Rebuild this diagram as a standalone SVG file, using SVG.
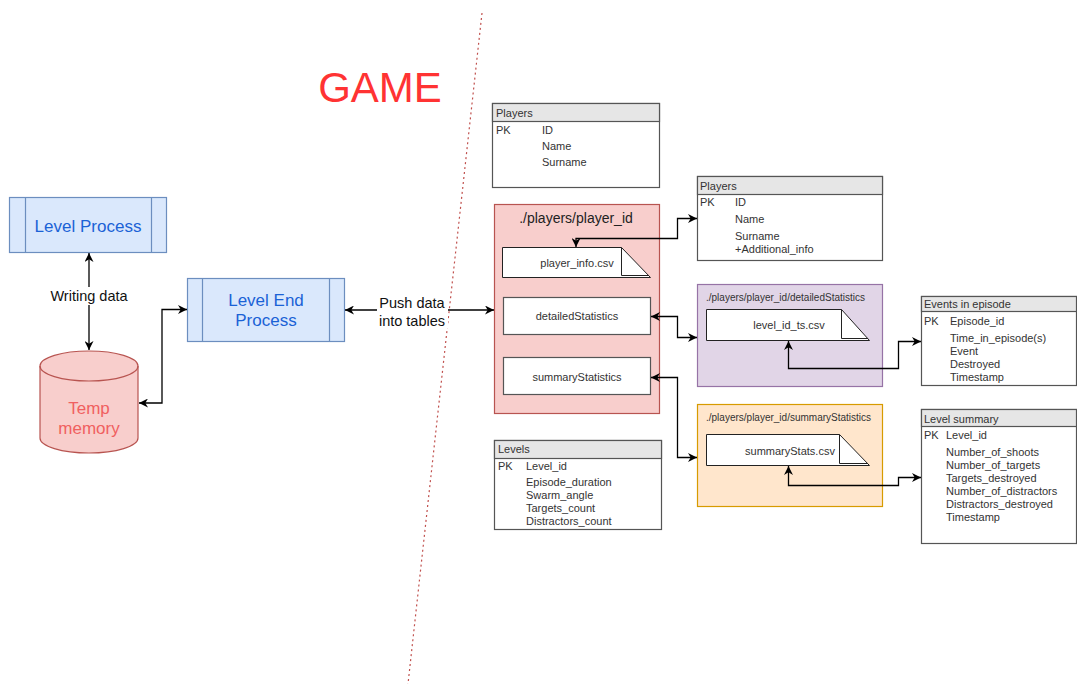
<svg xmlns="http://www.w3.org/2000/svg" width="1077" height="684" viewBox="0 0 1077 684">
<defs>
<marker id="ah" viewBox="0 0 10 10" refX="10" refY="5" markerWidth="9" markerHeight="9" markerUnits="userSpaceOnUse" orient="auto-start-reverse">
<path d="M0,0 L10,5 L0,10 L3,5 Z" fill="#000"/>
</marker>
</defs>
<style>
text{font-family:"Liberation Sans",Arial,sans-serif;}
.proc{fill:#dae8fc;stroke:#6c8ebf;stroke-width:1.2;}
.ptxt{fill:#1a62d6;font-size:17px;text-anchor:middle;}
.tbl{fill:#fff;stroke:#555;stroke-width:1.2;}
.hdr{fill:#e6e6e6;stroke:#555;stroke-width:1.2;}
.tt{fill:#333;font-size:11px;}
.note{fill:#fff;stroke:#222;stroke-width:1;}
.ntxt{fill:#333;font-size:11px;text-anchor:middle;}
.box{fill:#fff;stroke:#555;stroke-width:1.2;}
.conn{fill:none;stroke:#000;stroke-width:1.3;marker-start:url(#ah);marker-end:url(#ah);}
.lbl{fill:#111;font-size:14.5px;text-anchor:middle;}
.ctitle{fill:#333;font-size:10px;}
</style>
<rect width="1077" height="684" fill="#fff"/>
<line x1="482" y1="13" x2="408" y2="684" stroke="#c0504d" stroke-width="1.2" stroke-dasharray="2,3"/>
<text x="380" y="102" font-size="42" fill="#ff3333" text-anchor="middle" style="font-family:'Liberation Sans',Arial,sans-serif">GAME</text>

<g id="level-process">
<rect class="proc" x="9.5" y="197.5" width="157" height="55"/>
<line x1="25.5" y1="197.5" x2="25.5" y2="252.5" stroke="#6c8ebf" stroke-width="1.2"/>
<line x1="151.5" y1="197.5" x2="151.5" y2="252.5" stroke="#6c8ebf" stroke-width="1.2"/>
<text class="ptxt" x="88" y="232">Level Process</text>
</g>

<g id="level-end-process">
<rect class="proc" x="187.5" y="278.5" width="157" height="63"/>
<line x1="202.5" y1="278.5" x2="202.5" y2="341.5" stroke="#6c8ebf" stroke-width="1.2"/>
<line x1="329.5" y1="278.5" x2="329.5" y2="341.5" stroke="#6c8ebf" stroke-width="1.2"/>
<text class="ptxt" x="266" y="306">Level End</text>
<text class="ptxt" x="266" y="326">Process</text>
</g>

<g id="temp-memory">
<path d="M40,366 A49,15 0 0 1 138,366 V438 A49,15 0 0 1 40,438 Z" fill="#f8cecc" stroke="#b85450" stroke-width="1.2"/>
<path d="M40,366 A49,15 0 0 0 138,366" fill="none" stroke="#b85450" stroke-width="1.2"/>
<text x="89" y="414" font-size="17" fill="#f06060" text-anchor="middle" style="font-family:'Liberation Sans',Arial,sans-serif">Temp</text>
<text x="89" y="434" font-size="17" fill="#f06060" text-anchor="middle" style="font-family:'Liberation Sans',Arial,sans-serif">memory</text>
</g>

<g id="players-table">
<rect class="tbl" x="492.5" y="103.5" width="167" height="84"/>
<rect class="hdr" x="492.5" y="103.5" width="167" height="18"/>
<text class="tt" x="496" y="117">Players</text>
<text class="tt" x="496" y="134">PK</text>
<text class="tt" x="542" y="134">ID</text>
<text class="tt" x="542" y="150">Name</text>
<text class="tt" x="542" y="166">Surname</text>
</g>

<g id="player-folder">
<rect x="494.5" y="204.5" width="165" height="209" fill="#f8cecc" stroke="#b85450" stroke-width="1.2"/>
<text x="576" y="223" font-size="14" fill="#222" text-anchor="middle" style="font-family:'Liberation Sans',Arial,sans-serif">./players/player_id</text>
</g>

<g id="player-info-csv">
<path class="note" d="M502.5,247.5 H621.5 L650.5,277.5 H502.5 Z"/>
<path d="M621.5,247.5 V275.5 H649" fill="none" stroke="#222" stroke-width="1"/>
<text class="ntxt" x="577" y="267">player_info.csv</text>
</g>

<g id="detailed-statistics">
<rect class="box" x="503.5" y="297.5" width="147" height="37"/>
<text class="ntxt" x="577" y="320">detailedStatistics</text>
</g>

<g id="summary-statistics">
<rect class="box" x="503.5" y="357.5" width="147" height="37"/>
<text class="ntxt" x="577" y="381">summaryStatistics</text>
</g>

<g id="levels-table">
<rect class="tbl" x="494.5" y="440.5" width="167" height="89"/>
<rect class="hdr" x="494.5" y="440.5" width="167" height="18"/>
<text class="tt" x="498" y="453">Levels</text>
<text class="tt" x="498" y="470">PK</text>
<text class="tt" x="526" y="470">Level_id</text>
<text class="tt" x="526" y="486">Episode_duration</text>
<text class="tt" x="526" y="499">Swarm_angle</text>
<text class="tt" x="526" y="512">Targets_count</text>
<text class="tt" x="526" y="525">Distractors_count</text>
</g>

<g id="players-table-2">
<rect class="tbl" x="697.5" y="176.5" width="185" height="84"/>
<rect class="hdr" x="697.5" y="176.5" width="185" height="18"/>
<text class="tt" x="700" y="190">Players</text>
<text class="tt" x="700" y="206">PK</text>
<text class="tt" x="735" y="206">ID</text>
<text class="tt" x="735" y="223">Name</text>
<text class="tt" x="735" y="240">Surname</text>
<text class="tt" x="735" y="253">+Additional_info</text>
</g>

<g id="detailed-folder">
<rect x="697.5" y="284.5" width="185" height="102" fill="#e1d5e7" stroke="#9673a6" stroke-width="1.2"/>
<text class="ctitle" x="706" y="301">./players/player_id/detailedStatistics</text>
</g>

<g id="level-id-ts-csv">
<path class="note" d="M706.5,309.5 H841.5 L869.5,340.5 H706.5 Z"/>
<path d="M841.5,309.5 V338.5 H868" fill="none" stroke="#222" stroke-width="1"/>
<text class="ntxt" x="789" y="329">level_id_ts.csv</text>
</g>

<g id="summary-folder">
<rect x="697.5" y="404.5" width="185" height="102" fill="#ffe6cc" stroke="#d79b00" stroke-width="1.2"/>
<text class="ctitle" x="706" y="421">./players/player_id/summaryStatistics</text>
</g>

<g id="summary-stats-csv">
<path class="note" d="M706.5,434.5 H839.5 L869.5,465.5 H706.5 Z"/>
<path d="M839.5,434.5 V463.5 H868" fill="none" stroke="#222" stroke-width="1"/>
<text class="ntxt" x="790" y="455">summaryStats.csv</text>
</g>

<g id="events-table">
<rect class="tbl" x="921.5" y="296.5" width="155" height="89"/>
<rect class="hdr" x="921.5" y="296.5" width="155" height="15"/>
<text class="tt" x="924" y="308">Events in episode</text>
<text class="tt" x="924" y="325">PK</text>
<text class="tt" x="950" y="325">Episode_id</text>
<text class="tt" x="950" y="342">Time_in_episode(s)</text>
<text class="tt" x="950" y="355">Event</text>
<text class="tt" x="950" y="368">Destroyed</text>
<text class="tt" x="950" y="381">Timestamp</text>
</g>

<g id="level-summary-table">
<rect class="tbl" x="921.5" y="409.5" width="155" height="134"/>
<rect class="hdr" x="921.5" y="409.5" width="155" height="17"/>
<text class="tt" x="924" y="423">Level summary</text>
<text class="tt" x="924" y="439">PK</text>
<text class="tt" x="946" y="439">Level_id</text>
<text class="tt" x="946" y="456">Number_of_shoots</text>
<text class="tt" x="946" y="469">Number_of_targets</text>
<text class="tt" x="946" y="482">Targets_destroyed</text>
<text class="tt" x="946" y="495">Number_of_distractors</text>
<text class="tt" x="946" y="508">Distractors_destroyed</text>
<text class="tt" x="946" y="521">Timestamp</text>
</g>

<g id="connectors">
<path class="conn" d="M89,253 V350"/>
<rect x="48" y="287" width="82" height="18" fill="#fff"/>
<text class="lbl" x="89" y="301">Writing data</text>
<path class="conn" d="M139,403 H162 V309.5 H187"/>
<path class="conn" d="M345,310 H494"/>
<rect x="377" y="292" width="71" height="36" fill="#fff"/>
<text class="lbl" x="412" y="308">Push data</text>
<text class="lbl" x="412" y="326">into tables</text>
<path class="conn" d="M576,247 V238.5 H677.5 V218.5 H697"/>
<path class="conn" d="M651,316.5 H677.5 V337.5 H697"/>
<path class="conn" d="M651,377.5 H677.5 V457.5 H697"/>
<path class="conn" d="M788.5,341 V368.5 H898.5 V341.5 H921"/>
<path class="conn" d="M788.5,466 V485.5 H898.5 V477.5 H921"/>
</g>
</svg>
